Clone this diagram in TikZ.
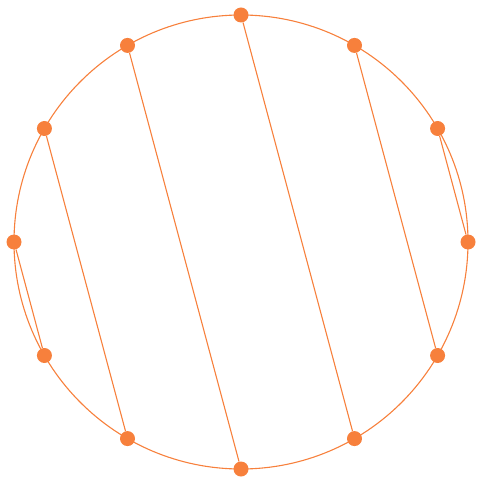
\documentclass[tikz,border=0pt]{standalone}
\usetikzlibrary{calc}
\begin{document}
\begin{tikzpicture}[x=1pt,y=-1pt,
  edge/.style={draw=dotorange,line width=1.1pt},
  pt/.style={circle,fill=dotorange,inner sep=0pt,minimum size=15pt}]
\definecolor{dotorange}{HTML}{F7803C}
\useasboundingbox (0,0) rectangle (477,478);
\coordinate (c) at (241,242);
\draw[edge] (c) circle (227pt);
\foreach \i in {0,...,11}{
  \node[pt] (p\i) at ($(c)+({-90+30*\i}:227)$) {};
}
\draw[edge] (p11) -- (p6);
\draw[edge] (p0) -- (p5);
\draw[edge] (p1) -- (p4);
\draw[edge] (p2) -- (p3);
\draw[edge] (p10) -- (p7);
\draw[edge] (p9) -- (p8);
\end{tikzpicture}
\end{document}
